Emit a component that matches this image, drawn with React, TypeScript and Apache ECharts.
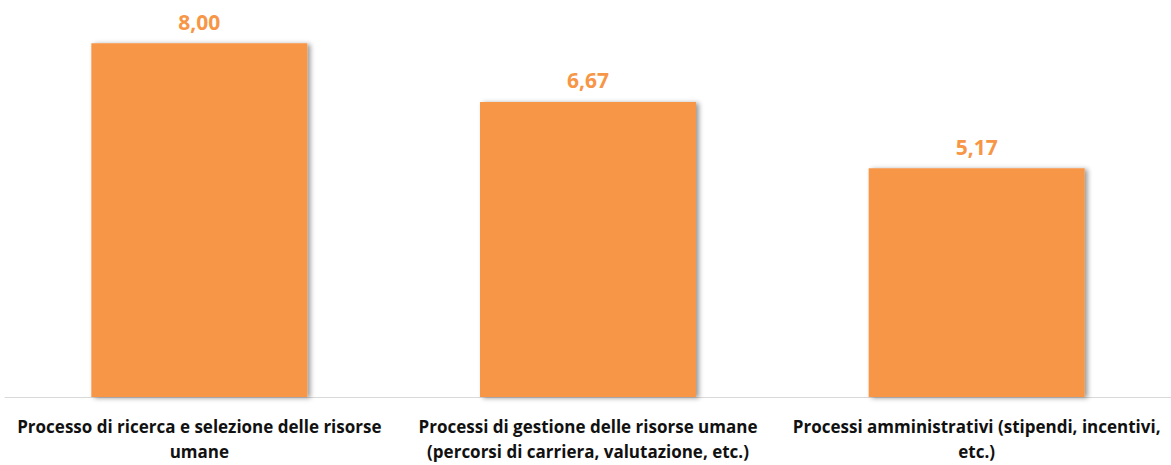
import React, { useEffect, useRef } from "react";
import * as echarts from "echarts";

const categories = [
  "Processo di ricerca e selezione delle risorse\numane",
  "Processi di gestione delle risorse umane\n(percorsi di carriera, valutazione, etc.)",
  "Processi amministrativi (stipendi, incentivi,\netc.)",
];
const values = [8.0, 6.67, 5.17];

export default function App() {
  const ref = useRef<HTMLDivElement>(null);
  useEffect(() => {
    if (!ref.current) return;
    const chart = echarts.init(ref.current, null, { renderer: "svg" });
    chart.setOption({
      animation: false,
      grid: { left: 5, width: 1171, top: 10, height: 387, containLabel: false },
      xAxis: {
        type: "category",
        data: categories,
        axisLine: { show: true, lineStyle: { color: "#D9D9D9", width: 1 } },
        axisTick: { show: false },
        axisLabel: {
          interval: 0,
          margin: 17,
          fontFamily: "Open Sans",
          fontWeight: "bold",
          fontSize: 17,
          lineHeight: 25,
          color: "#111",
          align: "center",
        },
      },
      yAxis: {
        type: "value",
        min: 0,
        max: 8.75,
        show: false,
        splitLine: { show: false },
      },
      series: [
        {
          type: "bar",
          data: values,
          barWidth: 216,
          itemStyle: {
            color: "#F79646",
            shadowColor: "rgba(0,0,0,0.4)",
            shadowBlur: 5,
            shadowOffsetX: 3,
            shadowOffsetY: 1,
          },
          label: {
            show: true,
            position: "top",
            distance: 11,
            formatter: (p: any) => p.value.toFixed(2).replace(".", ","),
            color: "#F79646",
            fontFamily: "Open Sans",
            fontWeight: "bold",
            fontSize: 21,
          },
        },
      ],
    });
    return () => chart.dispose();
  }, []);
  return (
    <div
      ref={ref}
      style={{ position: "fixed", left: 0, top: 0, width: 1171, height: 465, background: "#fff" }}
    />
  );
}
